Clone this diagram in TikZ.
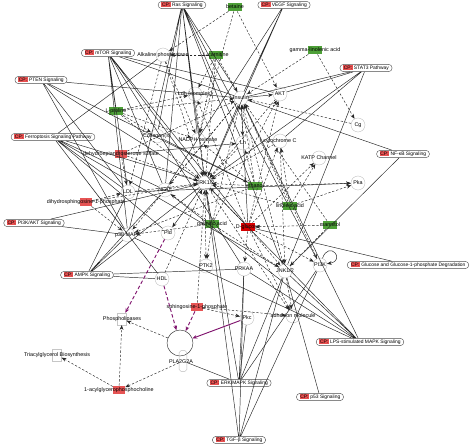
\documentclass[tikz,border=0pt]{standalone}
\usepackage{fontspec}
\setmainfont{Liberation Sans}
\usetikzlibrary{shapes}
\usetikzlibrary{shapes.misc}
\usetikzlibrary{arrows.meta}
\definecolor{cpred}{RGB}{232,80,80}
\definecolor{molgreen}{RGB}{78,160,56}
\definecolor{molred}{RGB}{230,84,84}
\definecolor{glured}{RGB}{214,0,0}
\definecolor{regpurple}{RGB}{128,20,110}
\newcommand{\cpmark}{{\setlength{\fboxsep}{0.5pt}\colorbox{cpred}{CP:}}~}
\tikzset{
	mol_t/.style = {inner sep=0pt, font=\fontsize{4.6}{5}\selectfont},% molecule text
	mol_c/.style = {circle, draw=gray!55, line width=0.3pt, minimum size=0.42cm,
		inner sep=0pt, label={[mol_t]center:#1}},% molecule, circle
	mol_g/.style = {rectangle, fill=molgreen, minimum width=0.42cm,
		minimum height=0.25cm, inner sep=0pt, label={[mol_t]center:#1}},% molecule, green
	mol_r/.style = {mol_g=#1, fill=molred, minimum width=0.36cm},% molecule, red
	mol_x/.style = {mol_g=#1, fill=glured},% molecule, dark red
	fn_x/.style = {rectangle, draw=gray!45, line width=0.3pt, minimum width=0.27cm,
		minimum height=0.36cm, inner sep=0pt, label={[mol_t]center:#1}},% function
	cp_n/.style = {rounded rectangle, draw=black!70, line width=0.35pt,
		inner xsep=2pt, inner ysep=1pt, font=\fontsize{4.2}{5}\selectfont},% canonical pathway
	rel_l/.style = {draw=black!85, line width=0.4pt},% plain relation
	rel_a/.style = {rel_l, ->},% direct
	rel_d/.style = {rel_a, dash pattern=on 2pt off 1.5pt},% indirect
	rel_p/.style = {->, draw=regpurple, line width=0.8pt, dash pattern=on 3pt off 2pt},% purple, indirect
	rel_ps/.style = {->, draw=regpurple, line width=0.8pt}% purple, direct
}

\begin{document}
\begin{tikzpicture}[x=0.03cm, y=-0.03cm, >={Stealth[length=4pt, width=3.2pt]}]
	\useasboundingbox (0,0) rectangle (473,446);
	% canonical pathways
	\node[cp_n] (ras) at (182,5) {\cpmark Ras Signaling};
	\node[cp_n] (vegf) at (284,5) {\cpmark VEGF Signaling};
	\node[cp_n] (mtor) at (108,53) {\cpmark mTOR Signaling};
	\node[cp_n] (pten) at (41,80) {\cpmark PTEN Signaling};
	\node[cp_n] (ferro) at (53,137) {\cpmark Ferroptosis Signaling Pathway};
	\node[cp_n] (stat3) at (366,68) {\cpmark STAT3 Pathway};
	\node[cp_n] (nfkb) at (403,154) {\cpmark NF-κB Signaling};
	\node[cp_n] (gluc) at (408,265) {\cpmark Glucose and Glucose-1-phosphate Degradation};
	\node[cp_n] (pi3kakt) at (34,223) {\cpmark PI3K/AKT Signaling};
	\node[cp_n] (ampk) at (87,275) {\cpmark AMPK Signaling};
	\node[cp_n] (lps) at (360,342) {\cpmark LPS-stimulated MAPK Signaling};
	\node[cp_n] (erkmapk) at (239,383) {\cpmark ERK/MAPK Signaling};
	\node[cp_n] (p53) at (320,397) {\cpmark p53 Signaling};
	\node[cp_n] (tgfb) at (239,440) {\cpmark TGF-β Signaling};

	% molecules
	\node[mol_g=betaine] (betaine) at (235,7) {};
	\node[mol_g=L-carnitine] (lcar) at (216,55) {};
	\node[mol_c=Alkaline phosphatase] (alk) at (163,55) {};
	\node[mol_g=gamma-linolenic acid] (gla) at (315,50) {};
	\node[mol_c=Ldh (complex)] (ldh) at (195,94) {};
	\node[mol_c=Insulin] (ins) at (241,98) {};
	\node[mol_c=AKT] (akt) at (280,94) {};
	\node[mol_g=L-proline] (lpro) at (116,111) {};
	\node[mol_c=Collagen(s)] (coll) at (157,136) {};
	\node[mol_c=NADPH oxidase] (nadph) at (198,140) {};
	\node[mol_c=Lh] (lh) at (243,143) {};
	\node[mol_c=cytochrome C] (cytc) at (280,141) {};
	\node[mol_c=Cg] (cg) at (358,125) {};
	\node[mol_r=dehydroepiandrosterone sulfate] (dhea) at (121,154) {};
	\node[mol_c=KATP Channel] (katp) at (319,158) {};
	\node[mol_c=NFAT] (nfat) at (165,190) {};
	\node[mol_c=ERK1/2] (erk) at (205,183) {};
	\node[mol_g=ethanol] (eth) at (255,186) {};
	\node[mol_c=Pka] (pka) at (358,183) {};
	\node[mol_c=LDL] (ldl) at (128,192) {};
	\node[mol_r=dihydrosphingosine-1-phosphate] (dhsp) at (86,202) {};
	\node[mol_g=linoleic acid] (lin) at (290,206) {};
	\node[mol_g=palmitic acid] (palm) at (212,224) {};
	\node[mol_x=D-glucose] (glc) at (248,227) {};
	\node[mol_g=mannitol] (man) at (330,225) {};
	\node[mol_c=p38 MAPK] (p38) at (128,235) {};
	\node[mol_c=Pld] (pld) at (168,233) {};
	\node[mol_c=PTK2] (ptk) at (206,266) {};
	\node[mol_c=PRKAA] (prkaa) at (244,269) {};
	\node[mol_c=JNK1/2] (jnk) at (285,271) {};
	\node[mol_c=PI3K] (pi3k) at (320,265) {};
	\node[mol_c=HDL] (hdl) at (162,279) {};
	\node[mol_r=sphingosine-1-phosphate] (s1p) at (197,307) {};
	\node[mol_c=Pkc] (pkc) at (247,318) {};
	\node[mol_c=adhesion molecule] (adh) at (293,316) {};
	\node[fn_x=Phospholipases] (phos) at (122,319) {};
	\node[fn_x=Triacylglycerol Biosynthesis] (tri) at (57,355) {};
	\node[circle, draw=black!80, line width=0.4pt, minimum size=0.78cm] (pla) at (180,343) {};
	\node[rectangle, rounded corners=1.5pt, draw=gray!55, line width=0.3pt,
		minimum width=0.15cm, minimum height=0.62cm] (plag) at (183,361) {};
	\node[mol_t] (plat) at (181,362) {PLA2G2A};
	\node[mol_r=1-acylglycerophosphocholine] (acyl) at (119,390) {};

	% pathway memberships
	\draw[rel_l] (ras) -- (nadph) (ras) -- (erk) (ras) -- (ins) (ras) -- (nfat)
		(ras) -- (jnk) (ras) -- (coll) (ras) -- (p38) (ras) -- (pi3k) (ras) -- (lh);
	\draw[rel_l] (vegf) -- (ins) (vegf) -- (erk) (vegf) -- (nfat);
	\draw[rel_l] (mtor) -- (lpro) (mtor) -- (erk) (mtor) -- (ins) (mtor) -- (nfat)
		(mtor) -- (ldl) (mtor) -- (akt) (mtor) -- (p38) (mtor) -- (glc) (mtor) -- (prkaa);
	\draw[rel_l] (pten) -- (ins) (pten) -- (p38) (pten) -- (erk) (pten) -- (ldl)
		(pten) -- (eth);
	\draw[rel_l] (ferro) -- (alk) (ferro) -- (erk) (ferro) -- (ldl) (ferro) -- (p38)
		(ferro) -- (pld) (ferro) -- (nfat) (ferro) -- (jnk) (ferro) -- (hdl);
	\draw[rel_l] (stat3) -- (akt) (stat3) -- (erk) (stat3) -- (jnk) (stat3) -- (ins)
		(stat3) -- (cytc);
	\draw[rel_l] (nfkb) -- (ins) (nfkb) -- (jnk);
	\draw[rel_l] (gluc) -- (glc);
	\draw[rel_l] (pi3kakt) -- (p38) (pi3kakt) -- (erk);
	\draw[rel_l] (ampk) -- (p38) (ampk) -- (prkaa) (ampk) -- (ldl) (ampk) -- (erk)
		(ampk) -- (hdl) (ampk) -- (nfat);
	\draw[rel_l] (lps) -- (erk) (lps) -- (jnk) (lps) -- (p38) (lps) -- (nfat) (lps) -- (ins)
		(lps) -- (prkaa);
	\draw[rel_l] (erkmapk) -- (erk) (erkmapk) -- (jnk) (erkmapk) -- (plag)
		(erkmapk) -- (pi3k) (erkmapk) -- (prkaa) (erkmapk) -- (pkc);
	\draw[rel_l] (p53) -- (jnk);
	\draw[rel_l] (tgfb) -- (erk) (tgfb) -- (jnk) (tgfb) -- (prkaa) (tgfb) -- (pi3k);

	% direct relations
	\path (ins) edge[rel_a] (erk) (glc) edge[rel_a] (ins) (erk) edge[rel_a] (pld)
		(ins) edge[rel_a] (akt) (ldl) edge[rel_a] (pka) (dhea) edge[rel_a] (lh)
		(coll) edge[rel_a] (eth);
	\path (pi3k) edge[rel_a, out=70, in=10, looseness=7] (pi3k);

	% indirect relations
	\path (betaine) edge[rel_d] (alk) (betaine) edge[rel_d] (akt) (betaine) edge[rel_d] (nadph);
	\path (lcar) edge[rel_d] (alk) (lcar) edge[rel_d] (erk) (lcar) edge[rel_d] (ldh)
		(lcar) edge[rel_d] (nadph) (lcar) edge[rel_d] (ins);
	\path (alk) edge[rel_d] (erk) (alk) edge[rel_d] (nadph) (alk) edge[rel_d] (ldl);
	\path (gla) edge[rel_d] (ins) (gla) edge[rel_d] (cg);
	\path (lpro) edge[rel_d] (ins) (lpro) edge[rel_d] (coll) (lpro) edge[rel_d] (nadph)
		(lpro) edge[rel_d] (erk) (lpro) edge[rel_d] (ldh);
	\path (dhea) edge[rel_d] (erk) (dhea) edge[rel_d] (ldl) (dhea) edge[rel_d] (ins);
	\path (dhsp) edge[rel_d] (erk) (dhsp) edge[rel_d] (ldl) (dhsp) edge[rel_d] (p38);
	\path (eth) edge[rel_d] (erk) (eth) edge[rel_d] (ins) (eth) edge[rel_d] (nadph)
		(eth) edge[rel_d] (lh) (eth) edge[rel_d] (pka) (eth) edge[rel_d] (p38);
	\path (lin) edge[rel_d] (erk) (lin) edge[rel_d] (pka) (lin) edge[rel_d] (ins)
		(lin) edge[rel_d] (cytc) (lin) edge[rel_d] (katp);
	\path (man) edge[rel_d] (glc) (man) edge[rel_d] (ins) (man) edge[rel_d] (jnk);
	\path (palm) edge[rel_d] (erk) (palm) edge[rel_d] (ins) (palm) edge[rel_d] (akt)
		(palm) edge[rel_d] (jnk) (palm) edge[rel_d] (p38) (palm) edge[rel_d] (nfat)
		(palm) edge[rel_d] (ptk);
	\path (glc) edge[rel_d] (erk) (glc) edge[rel_d] (akt) (glc) edge[rel_d] (prkaa)
		(glc) edge[rel_d] (jnk) (glc) edge[rel_d] (pi3k) (glc) edge[rel_d] (katp)
		(glc) edge[rel_d] (ldh) (glc) edge[rel_d] (cytc) (glc) edge[rel_d] (adh);
	\path (ins) edge[rel_d] (jnk) (ins) edge[rel_d] (p38) (ins) edge[rel_d] (pi3k)
		(ins) edge[rel_d] (nfat) (ins) edge[rel_d] (lh);
	\path (cytc) edge[rel_d] (jnk) (cytc) edge[rel_d] (erk) (ldh) edge[rel_d] (erk)
		(akt) edge[rel_d] (erk) (lh) edge[rel_d] (erk) (hdl) edge[rel_d] (erk)
		(ldl) edge[rel_d] (erk) (cg) edge[rel_d] (ins);
	\path (s1p) edge[rel_d] (erk) (s1p) edge[rel_d] (pkc) (s1p) edge[rel_d] (adh);
	\path (erk) edge[rel_d] (adh) (jnk) edge[rel_d] (adh) (erk) edge[rel_d] (ptk);
	\path (pla) edge[rel_d] (phos) (plag) edge[rel_d] (acyl);
	\path (acyl) edge[rel_d] (phos) (acyl) edge[rel_d] (tri);

	% purple
	\path (pld) edge[rel_p] (phos) (hdl) edge[rel_p] (pla) (s1p) edge[rel_p] (pla);
	\path (pkc) edge[rel_ps] (pla);
\end{tikzpicture}
\end{document}
